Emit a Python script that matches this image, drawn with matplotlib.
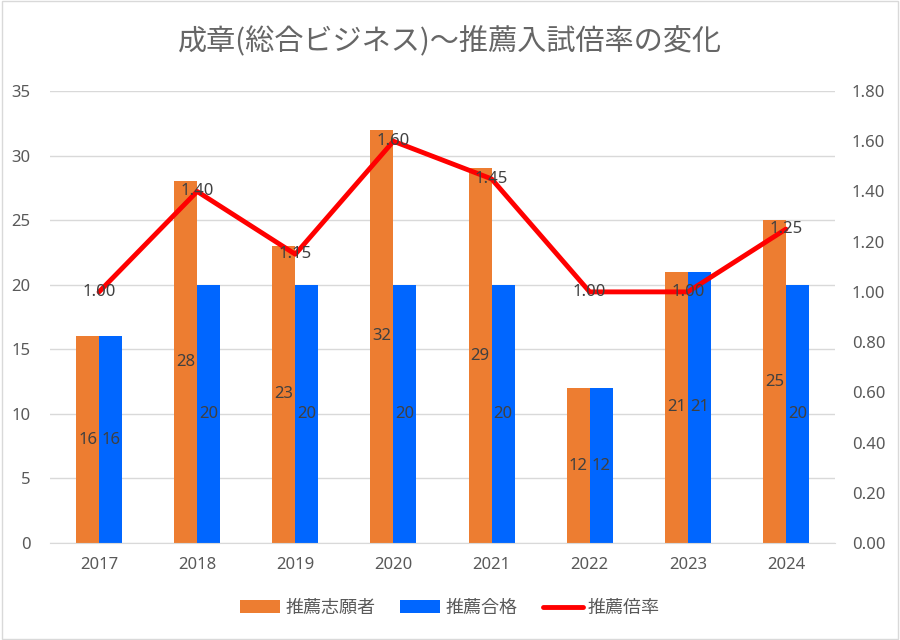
import matplotlib.pyplot as plt
import numpy as np
from matplotlib.patches import Rectangle

plt.rcParams['font.family'] = ['Noto Sans', 'Noto Sans CJK JP', 'DejaVu Sans']

years = ['2017', '2018', '2019', '2020', '2021', '2022', '2023', '2024']
applicants = [16, 28, 23, 32, 29, 12, 21, 25]   # 推薦志願者
passed = [16, 20, 20, 20, 20, 12, 21, 20]       # 推薦合格
ratio = [1.00, 1.40, 1.15, 1.60, 1.45, 1.00, 1.00, 1.25]  # 推薦倍率

c_orange = '#ED7D31'
c_blue = '#0066FF'
c_red = '#FF0000'
c_text = '#595959'
c_grid = '#D9D9D9'

fig = plt.figure(figsize=(9, 6.4), dpi=100)
ax = fig.add_axes([50/900, 97/640, 785/900, 452/640])
ax2 = ax.twinx()

x = np.arange(len(years))
w = 0.235
b1 = ax.bar(x - w/2, applicants, w, color=c_orange, zorder=2)
b2 = ax.bar(x + w/2, passed, w, color=c_blue, zorder=2)

for xi, v in zip(x, applicants):
    ax.text(xi - w/2, v/2, str(v), ha='center', va='center', fontsize=12, color='#404040', zorder=3)
for xi, v in zip(x, passed):
    ax.text(xi + w/2, v/2, str(v), ha='center', va='center', fontsize=12, color='#404040', zorder=3)

ln, = ax2.plot(x, ratio, color=c_red, lw=3.5, solid_capstyle='round', zorder=4)
for xi, v in zip(x, ratio):
    ax2.text(xi, v, f'{v:.2f}', ha='center', va='center', fontsize=12, color='#404040', zorder=5)

ax.set_xlim(-0.5, len(years) - 0.5)
ax.set_ylim(0, 35)
ax.set_yticks(range(0, 36, 5))
ax2.set_ylim(0, 1.8)
ax2.set_yticks(np.arange(0, 1.81, 0.2))
ax2.set_yticklabels([f'{t:.2f}' for t in np.arange(0, 1.81, 0.2)])
ax.set_xticks(x)
ax.set_xticklabels(years)

ax.yaxis.grid(True, color=c_grid, lw=1)
ax.set_axisbelow(True)
for a in (ax, ax2):
    for s in a.spines.values():
        s.set_visible(False)
    a.tick_params(length=0, labelsize=12, colors=c_text)
ax.spines['bottom'].set_visible(True)
ax.spines['bottom'].set_color(c_grid)
ax.tick_params(axis='x', pad=10)
ax.tick_params(axis='y', pad=14)
ax2.tick_params(axis='y', pad=12)

fig.text(0.5, 0.935, '成章(総合ビジネス)〜推薦入試倍率の変化', ha='center', va='center',
         fontsize=21, color='#666666', family=['Noto Sans CJK JP', 'DejaVu Sans'])

fig.legend([b1, b2, ln], ['推薦志願者', '推薦合格', '推薦倍率'], loc='center',
           bbox_to_anchor=(0.5, 0.05), ncol=3, frameon=False,
           prop={'family': ['Noto Sans CJK JP', 'DejaVu Sans'], 'size': 13},
           labelcolor=c_text, handlelength=2.2, columnspacing=1.4, handletextpad=0.3)

fig.patches.append(Rectangle((0.002, 0.002), 0.996, 0.996, transform=fig.transFigure,
                             fill=False, edgecolor=c_grid, lw=1))

fig.savefig('out.png', dpi=100)
